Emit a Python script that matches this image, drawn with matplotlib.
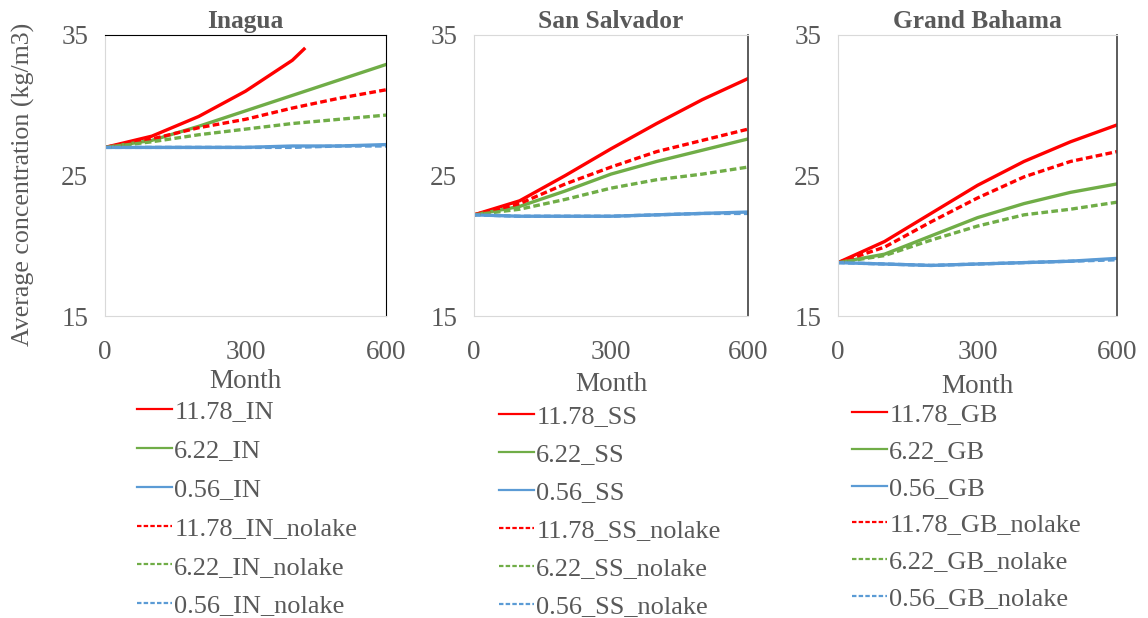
import matplotlib.pyplot as plt
import numpy as np

plt.rcParams['font.family'] = ['Liberation Serif', 'DejaVu Serif']

months = [0, 100, 200, 300, 400, 500, 600]
months_in_red = [0, 100, 200, 300, 400, 425]

# Inagua
in_1178 = [27.0, 27.8, 29.2, 31.0, 33.2, 34.0]
in_622 = [27.0, 27.5, 28.5, 29.6, 30.7, 31.8, 32.9]
in_056 = [27.0, 27.0, 27.0, 27.0, 27.1, 27.1, 27.2]
in_1178_nl = [27.0, 27.6, 28.4, 29.0, 29.8, 30.5, 31.1]
in_622_nl = [27.0, 27.4, 27.9, 28.3, 28.7, 29.0, 29.3]
in_056_nl = [27.0, 27.0, 27.0, 27.0, 27.0, 27.1, 27.1]

# San Salvador
ss_1178 = [22.2, 23.2, 25.0, 26.9, 28.7, 30.4, 31.9]
ss_622 = [22.2, 22.8, 23.9, 25.1, 26.0, 26.8, 27.6]
ss_056 = [22.2, 22.1, 22.1, 22.1, 22.2, 22.3, 22.4]
ss_1178_nl = [22.2, 23.0, 24.4, 25.6, 26.7, 27.5, 28.3]
ss_622_nl = [22.2, 22.6, 23.3, 24.1, 24.7, 25.1, 25.6]
ss_056_nl = [22.2, 22.1, 22.1, 22.1, 22.2, 22.3, 22.3]

# Grand Bahama
gb_1178 = [18.8, 20.3, 22.3, 24.3, 26.0, 27.4, 28.6]
gb_622 = [18.8, 19.4, 20.7, 22.0, 23.0, 23.8, 24.4]
gb_056 = [18.8, 18.7, 18.6, 18.7, 18.8, 18.9, 19.1]
gb_1178_nl = [18.8, 19.9, 21.7, 23.4, 24.9, 26.0, 26.7]
gb_622_nl = [18.8, 19.3, 20.4, 21.4, 22.2, 22.6, 23.1]
gb_056_nl = [18.8, 18.7, 18.6, 18.7, 18.8, 18.9, 19.0]

red = '#FF0000'
green = '#70AD47'
blue = '#5B9BD5'
grey = '#595959'

panels = [
    ('Inagua', 'IN', [months_in_red, months, months, months, months, months],
     [in_1178, in_622, in_056, in_1178_nl, in_622_nl, in_056_nl]),
    ('San Salvador', 'SS', [months] * 6,
     [ss_1178, ss_622, ss_056, ss_1178_nl, ss_622_nl, ss_056_nl]),
    ('Grand Bahama', 'GB', [months] * 6,
     [gb_1178, gb_622, gb_056, gb_1178_nl, gb_622_nl, gb_056_nl]),
]

W, H = 1148, 618
fig = plt.figure(figsize=(W / 100, H / 100), dpi=100)

# axes boxes in pixels: left, right
boxes = [(105, 386), (474, 748), (838, 1117)]
top_px, bot_px = 35, 316
legend_pos = [(137, 400), (499, 405), (852, 403)]
leg_spacing = [0.58, 0.545, 0.50]
month_pad = [3, 5, 7]

for i, (title, code, xs, ys) in enumerate(panels):
    l, r = boxes[i]
    ax = fig.add_axes([l / W, 1 - bot_px / H, (r - l) / W, (bot_px - top_px) / H])
    names = ['11.78_' + code, '6.22_' + code, '0.56_' + code,
             '11.78_' + code + '_nolake', '6.22_' + code + '_nolake',
             '0.56_' + code + '_nolake']
    colors = [red, green, blue, red, green, blue]
    styles = ['-', '-', '-', (0, (2, 1)), (0, (2, 1)), (0, (2, 1))]
    handles = []
    for x, y, c, s, n in zip(xs, ys, colors, styles, names):
        ax.plot(x, y, color=c, linestyle=s, linewidth=2.4)
        h, = ax.plot([], [], color=c, linestyle=s, linewidth=1.6, label=n)
        handles.append(h)
    ax.set_xlim(0, 600)
    ax.set_ylim(15, 35)
    ax.set_xticks([0, 300, 600])
    ax.set_yticks([15, 25, 35])
    ax.tick_params(length=0, labelsize=19.5, colors=grey)
    ax.tick_params(axis='x', pad=17)
    ax.tick_params(axis='y', pad=12)
    ax.set_xlabel('Month', fontsize=19.5, color=grey, labelpad=month_pad[i])
    ax.set_title(title, fontsize=18.3, fontweight='bold', color=grey, pad=5)
    for side in ['left', 'bottom']:
        ax.spines[side].set_color('#D9D9D9')
    if i == 0:
        ax.set_ylabel('Average concentration (kg/m3)', fontsize=18.6, color=grey)
        ax.yaxis.set_label_coords(-0.25, 0.468)
        for side in ['top', 'right']:
            ax.spines[side].set_color('black')
            ax.spines[side].set_linestyle((0, (1, 1)))
            ax.spines[side].set_linewidth(0.8)
    else:
        ax.spines['top'].set_color('#D9D9D9')
        ax.spines['right'].set_color('#404040')
        ax.spines['right'].set_linewidth(1.2)

    lx, ly = legend_pos[i]
    fig.legend(handles=handles, loc='upper left',
               bbox_to_anchor=(lx / W, 1 - ly / H), frameon=False,
               fontsize=19, handlelength=1.33, handletextpad=0.08,
               borderpad=0, borderaxespad=0,
               labelspacing=leg_spacing[i], labelcolor=grey)

fig.savefig('out.png', dpi=100)
